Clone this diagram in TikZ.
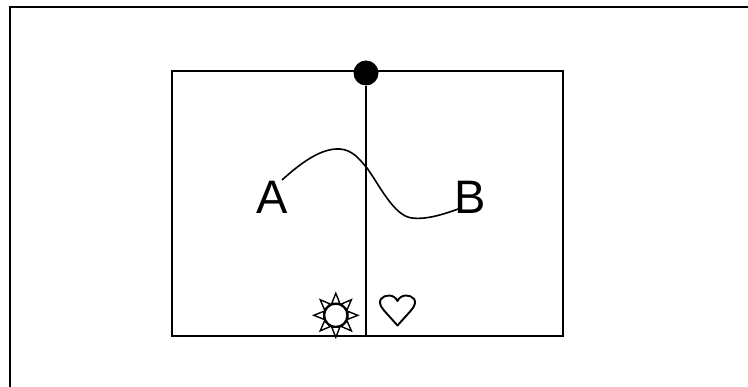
\documentclass[tikz,border=0pt]{standalone}
\usepackage{fontspec}
\setmainfont{Liberation Sans}
\usetikzlibrary{shapes.geometric}
\tikzset{
  ln/.style={draw=black,line width=1.9pt},
  lab/.style={font=\fontsize{47}{47}\selectfont,inner sep=0pt,text=black},
  ray/.style={draw=black,fill=white,line width=1.4pt,line join=miter}
}
\begin{document}
\begin{tikzpicture}[x=1pt,y=-1pt]
\useasboundingbox (0,0) rectangle (748,387);
\fill[white] (0,0) rectangle (748,387);
\coordinate (fa) at (10,387);
\coordinate (fb) at (10,7);
\coordinate (fc) at (748,7);
\draw[ln] (fa) -- (fb) -- (fc);
\node[ln,outer sep=0pt,minimum width=391pt,minimum height=265pt,inner sep=0pt,anchor=north west] (box) at (172,71) {};
\coordinate (bot) at (366,336);
\node[circle,fill=black,minimum size=25pt,inner sep=0pt] (dot) at (366,73) {};
\draw[ln] (dot) -- (bot);
\node[lab] (A) at (272.5,197.5) {A};
\node[lab] (B) at (470.5,197.5) {B};
\coordinate (s) at (282,180);
\coordinate (e) at (461,208);
\draw[black,line width=1.6pt] (s) .. controls (303,161) and (322,148) .. (340,149)
  .. controls (353,150) and (360,160) .. (367,168)
  .. controls (380,186) and (394,216) .. (412,218)
  .. controls (428,220) and (447,213) .. (e);
% sun
\foreach \a in {0,45,...,315}{
  \draw[ray,rotate around={\a:(335.8,315.3)}] (335.8+12,311.3) -- (335.8+22,315.3) -- (335.8+12,319.3) -- cycle;
}
\node[circle,ln,fill=white,minimum size=23pt,inner sep=0pt] (sun) at (335.8,315.3) {};
% heart
\draw[ln,line join=round] (397.5,325.5) -- (384,310.5) .. controls (375,300) and (383,295.5) .. (389,295.5)
  .. controls (393,295.5) and (396,298) .. (397.5,301)
  .. controls (399,298) and (402,295.5) .. (406,295.5)
  .. controls (412,295.5) and (420,300) .. (411,310.5) -- cycle;
\end{tikzpicture}
\end{document}
